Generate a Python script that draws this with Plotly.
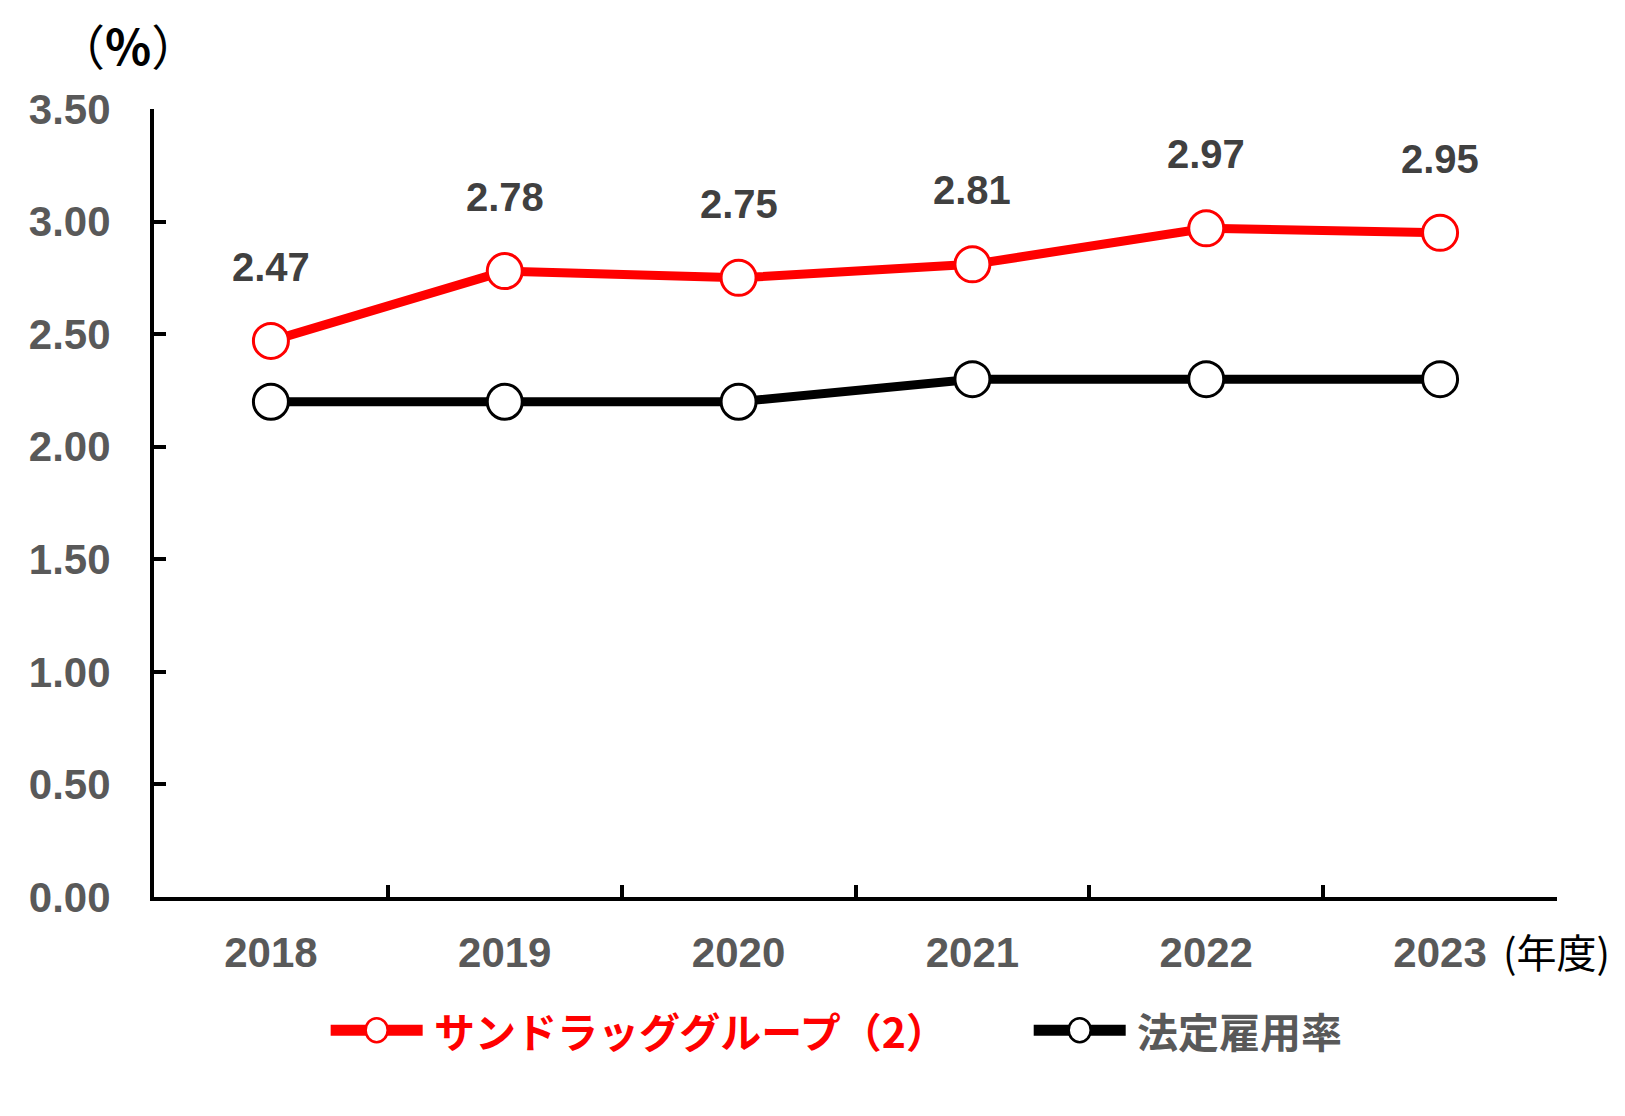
import plotly.graph_objects as go

years = ["2018", "2019", "2020", "2021", "2022", "2023"]
sundrug = [2.47, 2.78, 2.75, 2.81, 2.97, 2.95]
legal_rate = [2.2, 2.2, 2.2, 2.3, 2.3, 2.3]
series_names = ["サンドラッググループ（2）", "法定雇用率"]
y_ticks = [0, 0.5, 1.0, 1.5, 2.0, 2.5, 3.0, 3.5]

NUM_FONT = "Liberation Sans, Arial, sans-serif"
JP_FONT = "Noto Sans CJK JP, sans-serif"
RED = "#FF0000"
GRAY = "#595959"

fig = go.Figure()
fig.add_trace(go.Scatter(
    x=years, y=legal_rate, mode="lines+markers", name=series_names[1],
    line=dict(color="black", width=9),
    marker=dict(size=35, color="white", line=dict(color="black", width=3)),
    showlegend=False,
))
fig.add_trace(go.Scatter(
    x=years, y=sundrug, mode="lines+markers", name=series_names[0],
    line=dict(color=RED, width=9),
    marker=dict(size=35, color="white", line=dict(color=RED, width=3)),
    showlegend=False,
))

annotations = []
for i, v in enumerate(sundrug):
    annotations.append(dict(
        x=i, y=v, xref="x", yref="y", text=f"<b>{v:.2f}</b>", showarrow=False,
        yshift=74, font=dict(family=NUM_FONT, size=40, color="#404040"),
        xanchor="center", yanchor="middle",
    ))

annotations.append(dict(
    x=-0.0185, y=1.083, xref="paper", yref="paper", text="（<b>%</b>）",
    showarrow=False, xanchor="center", yanchor="middle",
    font=dict(family=JP_FONT, size=48, color="black"),
))
annotations.append(dict(
    x=0.960, y=-0.0685, xref="paper", yref="paper", text="(年度)",
    showarrow=False, xanchor="left", yanchor="middle",
    font=dict(family=JP_FONT, size=40, color="black"),
))

# custom legend
leg_y = -0.169
legend_items = [
    (series_names[0], RED, RED, 0.1587, 0.1979),
    (series_names[1], "black", GRAY, 0.6598, 0.699),
]
shapes = []
for name, col, tcol, cx, tx in legend_items:
    shapes.append(dict(
        type="line", xref="paper", yref="paper", xsizemode="pixel", ysizemode="pixel",
        xanchor=cx, yanchor=leg_y, x0=-46, x1=46, y0=0, y1=0,
        line=dict(color=col, width=11),
    ))
    shapes.append(dict(
        type="circle", xref="paper", yref="paper", xsizemode="pixel", ysizemode="pixel",
        xanchor=cx, yanchor=leg_y, x0=-11, x1=11, y0=-12, y1=12,
        fillcolor="white", line=dict(color=col, width=2.5),
    ))
    annotations.append(dict(
        x=tx, y=leg_y, xref="paper", yref="paper", text=f"<b>{name}</b>",
        showarrow=False, xanchor="left", yanchor="middle",
        font=dict(family=JP_FONT, size=41, color=tcol),
    ))

# page body has an 8px margin, so the figure is sized/margined to compensate
fig.update_layout(
    width=1609, height=1100,
    margin=dict(l=146, r=60, t=101, b=211),
    paper_bgcolor="white", plot_bgcolor="white",
    annotations=annotations, shapes=shapes,
    xaxis=dict(
        type="category", range=[-0.5, 5.5], showgrid=False, zeroline=False,
        showline=True, linecolor="black", linewidth=4,
        ticks="inside", tickson="boundaries", ticklen=12, tickwidth=4, tickcolor="black",
        tickfont=dict(family=NUM_FONT, size=42, color=GRAY, weight="bold"),
        ticklabelstandoff=16,
    ),
    yaxis=dict(
        range=[0, 3.5], tickvals=y_ticks, tickformat=".2f", showgrid=False, zeroline=False,
        showline=True, linecolor="black", linewidth=4,
        ticks="inside", ticklen=12, tickwidth=4, tickcolor="black",
        tickfont=dict(family=NUM_FONT, size=42, color=GRAY, weight="bold"),
        ticklabelstandoff=31,
    ),
)

fig.write_html("out.html")
